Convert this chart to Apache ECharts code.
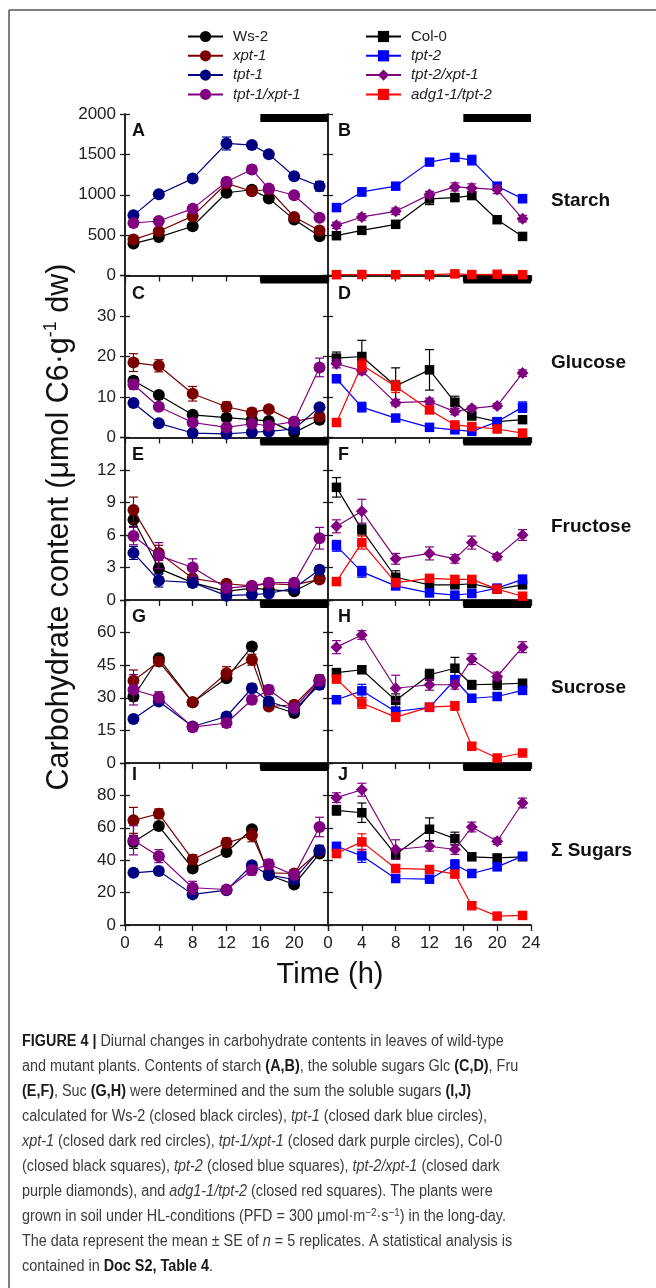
<!DOCTYPE html>
<html><head><meta charset="utf-8">
<script src="https://cdn.jsdelivr.net/npm/echarts@6/dist/echarts.min.js"></script>
<style>html,body{margin:0;padding:0;background:#fff}#c{width:656px;height:1288px}</style>
</head><body><div id="c"></div><script>
// ---------- data ----------
const times = [1, 4, 8, 12, 15, 17, 20, 23];
const rowNames = ['Starch', 'Glucose', 'Fructose', 'Sucrose', 'Σ Sugars'];
const panelLetters = [['A', 'B'], ['C', 'D'], ['E', 'F'], ['G', 'H'], ['I', 'J']];
const yMax = [2000, 40, 15, 75, 100];
const yStep = [500, 10, 3, 15, 20];
const xMax = 24, xStep = 4;
const darkStart = 16, darkEnd = 24;
const leftNames = ['Ws-2', 'xpt-1', 'tpt-1', 'tpt-1/xpt-1'];
const rightNames = ['Col-0', 'tpt-2', 'tpt-2/xpt-1', 'adg1-1/tpt-2'];

// Starch
const ws2_starch = [395, 476, 610, 1025, 1062, 955, 692, 485];
const xpt1_starch = [445, 548, 735, 1140, 1043, 1065, 725, 558];
const tpt1_starch = [745, 1006, 1200, 1635, 1615, 1503, 1230, 1105];
const tpt1xpt1_starch = [650, 675, 828, 1160, 1313, 1077, 994, 716];
const col0_starch = [493, 559, 634, 948, 965, 990, 691, 484];
const tpt2_starch = [841, 1035, 1106, 1404, 1462, 1429, 1106, 952];
const tpt2xpt1_starch = [621, 725, 795, 1002, 1097, 1085, 1064, 704];
const adg1_starch = [10, 12, 10, 10, 20, 12, 15, 10];
const ws2_starch_se = [20, 20, 20, 30, 20, 30, 20, 20];
const xpt1_starch_se = [30, 30, 30, 40, 30, 30, 30, 30];
const tpt1_starch_se = [30, 30, 30, 80, 30, 30, 40, 60];
const tpt1xpt1_starch_se = [30, 30, 30, 40, 50, 30, 30, 40];
const col0_starch_se = [20, 30, 30, 70, 30, 20, 20, 20];
const tpt2_starch_se = [40, 50, 40, 40, 40, 60, 40, 50];
const tpt2xpt1_starch_se = [40, 40, 40, 40, 50, 50, 50, 40];
const adg1_starch_se = [10, 10, 10, 10, 10, 10, 10, 10];

// Glucose
const ws2_glc = [14.0, 10.5, 5.6, 4.9, 4.4, 4.1, 1.2, 4.4];
const xpt1_glc = [18.5, 17.7, 10.8, 7.6, 6.2, 7.0, 3.9, 5.2];
const tpt1_glc = [8.5, 3.5, 1.1, 0.9, 1.3, 1.5, 2.1, 7.5];
const tpt1xpt1_glc = [13.1, 7.6, 3.7, 2.5, 3.4, 2.9, 3.9, 17.3];
const col0_glc = [19.6, 20.0, 12.7, 16.7, 8.7, 5.3, 3.9, 4.4];
const tpt2_glc = [14.5, 7.5, 4.8, 2.5, 1.9, 1.5, 3.9, 7.5];
const tpt2xpt1_glc = [18.2, 16.5, 8.6, 8.9, 6.4, 7.2, 7.8, 15.9];
const adg1_glc = [3.7, 17.9, 12.6, 6.8, 3.1, 2.7, 2.1, 1.1];
const ws2_glc_se = [1.0, 0.6, 0.5, 0.5, 0.5, 0.6, 0.3, 1.0];
const xpt1_glc_se = [2.2, 1.5, 1.8, 1.2, 1.0, 0.8, 0.4, 0.8];
const tpt1_glc_se = [0.8, 0.5, 0.3, 0.3, 0.3, 0.3, 0.4, 0.8];
const tpt1xpt1_glc_se = [1.2, 0.7, 0.6, 0.5, 0.6, 0.5, 0.5, 2.3];
const col0_glc_se = [1.5, 4.0, 4.5, 5.0, 1.5, 0.8, 0.5, 0.5];
const tpt2_glc_se = [0.9, 1.2, 0.8, 0.6, 0.5, 0.4, 0.6, 1.3];
const tpt2xpt1_glc_se = [1.0, 1.0, 0.8, 0.8, 0.8, 0.6, 0.6, 0.8];
const adg1_glc_se = [0.6, 1.5, 1.5, 0.8, 0.5, 0.5, 0.5, 0.4];

// Fructose
const ws2_fru = [7.4, 2.9, 1.6, 0.8, 1.1, 0.95, 0.8, 2.0];
const xpt1_fru = [8.3, 4.35, 2.0, 1.5, 1.3, 1.5, 1.4, 1.9];
const tpt1_fru = [4.35, 1.8, 1.6, 0.4, 0.5, 0.6, 1.1, 2.8];
const tpt1xpt1_fru = [5.9, 4.1, 3.0, 1.1, 1.3, 1.6, 1.6, 5.7];
const col0_fru = [10.4, 6.5, 2.1, 1.4, 1.4, 1.5, 1.0, 1.4];
const tpt2_fru = [5.0, 2.6, 1.3, 0.65, 0.45, 0.6, 1.1, 1.9];
const tpt2xpt1_fru = [6.8, 8.2, 3.8, 4.3, 3.8, 5.3, 4.0, 6.0];
const adg1_fru = [1.7, 5.3, 1.6, 2.0, 1.9, 1.9, 1.0, 0.35];
const ws2_fru_se = [0.6, 0.5, 0.3, 0.2, 0.2, 0.2, 0.2, 0.3];
const xpt1_fru_se = [1.2, 0.7, 0.3, 0.3, 0.2, 0.3, 0.3, 0.3];
const tpt1_fru_se = [0.6, 0.6, 0.4, 0.2, 0.2, 0.2, 0.2, 0.3];
const tpt1xpt1_fru_se = [0.8, 1.2, 0.8, 0.3, 0.3, 0.4, 0.3, 1.0];
const col0_fru_se = [0.9, 0.5, 0.6, 0.2, 0.2, 0.2, 0.2, 0.2];
const tpt2_fru_se = [0.5, 0.5, 0.3, 0.2, 0.2, 0.2, 0.3, 0.4];
const tpt2xpt1_fru_se = [0.6, 1.1, 0.5, 0.6, 0.4, 0.6, 0.3, 0.5];
const adg1_fru_se = [0.2, 0.6, 0.3, 0.3, 0.3, 0.3, 0.2, 0.2];

// Sucrose
const ws2_suc = [30.6, 48.2, 27.9, 39.0, 53.6, 26.8, 23.0, 37.5];
const xpt1_suc = [37.8, 46.7, 27.9, 41.3, 47.5, 26.0, 26.8, 38.3];
const tpt1_suc = [20.2, 28.3, 16.8, 21.4, 34.4, 28.3, 24.5, 36.0];
const tpt1xpt1_suc = [33.7, 30.3, 16.5, 18.4, 29.1, 33.7, 25.3, 38.0];
const col0_suc = [41.6, 42.9, 28.8, 40.6, 43.6, 36.0, 36.3, 36.7];
const tpt2_suc = [29.1, 33.2, 23.7, 25.6, 38.3, 29.8, 30.6, 33.4];
const tpt2xpt1_suc = [53.3, 58.9, 34.4, 36.0, 36.0, 47.8, 39.8, 53.3];
const adg1_suc = [38.6, 27.6, 21.1, 25.7, 26.3, 7.7, 2.3, 4.6];
const ws2_suc_se = [2, 1.5, 1, 1.5, 1.5, 1.5, 1.5, 2];
const xpt1_suc_se = [5, 2, 1.5, 3, 2.5, 1.5, 1.5, 2];
const tpt1_suc_se = [1.5, 1.5, 1.5, 1.5, 2, 1.5, 1.5, 2];
const tpt1xpt1_suc_se = [7, 2.5, 2, 2, 2, 2, 1.5, 2.5];
const col0_suc_se = [1.5, 1.5, 3, 2.5, 5, 2, 2.5, 1.5];
const tpt2_suc_se = [1.5, 3, 1.5, 1.5, 2, 1.5, 1.5, 1.5];
const tpt2xpt1_suc_se = [3, 2, 6, 2.5, 2, 2.5, 2, 2.5];
const adg1_suc_se = [1.5, 2.5, 2, 1.5, 2, 1.5, 1, 1.5];

// Sum of sugars
const ws2_sum = [51.3, 61.1, 34.9, 45.1, 59.1, 30.8, 25.0, 44.1];
const xpt1_sum = [64.6, 68.7, 40.4, 50.7, 55.4, 32.2, 31.8, 45.7];
const tpt1_sum = [32.2, 33.4, 18.9, 21.5, 36.9, 30.8, 28.1, 46.2];
const tpt1xpt1_sum = [52.3, 42.5, 23.0, 21.9, 33.8, 37.5, 30.8, 60.5];
const col0_sum = [70.8, 69.3, 43.5, 59.1, 53.3, 42.1, 41.4, 42.1];
const tpt2_sum = [48.6, 42.7, 28.7, 28.3, 37.3, 31.8, 35.9, 42.5];
const tpt2xpt1_sum = [78.6, 83.5, 46.6, 48.6, 46.6, 60.5, 51.7, 75.3];
const adg1_sum = [44.1, 51.3, 34.9, 34.3, 31.4, 11.9, 5.5, 5.9];
const ws2_sum_se = [4, 2, 2, 2, 2, 2, 2, 2];
const xpt1_sum_se = [8, 3, 3, 3, 4, 2, 2, 2];
const tpt1_sum_se = [2, 2, 2, 2, 2, 2, 2, 3];
const tpt1xpt1_sum_se = [9, 4, 4, 2, 3, 3, 2, 6];
const col0_sum_se = [3, 6, 3, 7, 4, 2, 2, 2];
const tpt2_sum_se = [2, 4, 2, 2, 3, 2, 2, 2];
const tpt2xpt1_sum_se = [3, 4, 6, 3, 3, 3, 2, 3];
const adg1_sum_se = [2, 5, 2, 2, 2, 2, 1.5, 1.5];

// ---------- mapping ----------
const leftVals = [
  [ws2_starch, xpt1_starch, tpt1_starch, tpt1xpt1_starch],
  [ws2_glc, xpt1_glc, tpt1_glc, tpt1xpt1_glc],
  [ws2_fru, xpt1_fru, tpt1_fru, tpt1xpt1_fru],
  [ws2_suc, xpt1_suc, tpt1_suc, tpt1xpt1_suc],
  [ws2_sum, xpt1_sum, tpt1_sum, tpt1xpt1_sum]];
const leftErrs = [
  [ws2_starch_se, xpt1_starch_se, tpt1_starch_se, tpt1xpt1_starch_se],
  [ws2_glc_se, xpt1_glc_se, tpt1_glc_se, tpt1xpt1_glc_se],
  [ws2_fru_se, xpt1_fru_se, tpt1_fru_se, tpt1xpt1_fru_se],
  [ws2_suc_se, xpt1_suc_se, tpt1_suc_se, tpt1xpt1_suc_se],
  [ws2_sum_se, xpt1_sum_se, tpt1_sum_se, tpt1xpt1_sum_se]];
const rightVals = [
  [col0_starch, tpt2_starch, tpt2xpt1_starch, adg1_starch],
  [col0_glc, tpt2_glc, tpt2xpt1_glc, adg1_glc],
  [col0_fru, tpt2_fru, tpt2xpt1_fru, adg1_fru],
  [col0_suc, tpt2_suc, tpt2xpt1_suc, adg1_suc],
  [col0_sum, tpt2_sum, tpt2xpt1_sum, adg1_sum]];
const rightErrs = [
  [col0_starch_se, tpt2_starch_se, tpt2xpt1_starch_se, adg1_starch_se],
  [col0_glc_se, tpt2_glc_se, tpt2xpt1_glc_se, adg1_glc_se],
  [col0_fru_se, tpt2_fru_se, tpt2xpt1_fru_se, adg1_fru_se],
  [col0_suc_se, tpt2_suc_se, tpt2xpt1_suc_se, adg1_suc_se],
  [col0_sum_se, tpt2_sum_se, tpt2xpt1_sum_se, adg1_sum_se]];

const colors = {
  'Ws-2': '#000000', 'xpt-1': '#7a0000', 'tpt-1': '#000080', 'tpt-1/xpt-1': '#800080',
  'Col-0': '#000000', 'tpt-2': '#0000ff', 'tpt-2/xpt-1': '#800080', 'adg1-1/tpt-2': '#ff0000'
};
const symbols = {
  'Ws-2': ['circle', 12], 'xpt-1': ['circle', 12], 'tpt-1': ['circle', 12], 'tpt-1/xpt-1': ['circle', 12],
  'Col-0': ['rect', 9.5], 'tpt-2': ['rect', 9.5], 'tpt-2/xpt-1': ['diamond', 12], 'adg1-1/tpt-2': ['rect', 9.5]
};

// ---------- layout ----------
const FONT = "'Liberation Sans', Arial, Helvetica, sans-serif";
const colLeft = [125, 328], colW = 203;
const rowTop = [114, 275.5, 437.5, 600, 763];
const rowBot = [275.5, 437.5, 600, 763, 925];
const letterY = [131, 294, 455, 617, 775];
const rowLabelY = [201, 363, 527, 688, 851];
const barPx = 8;
const AX = '#1a1a1a';

function errRender(color) {
  return function (params, api) {
    const x = api.value(0), v = api.value(1), e = api.value(2);
    const p1 = api.coord([x, v + e]), p2 = api.coord([x, v - e]);
    const w = 4.5;
    const st = { stroke: color, lineWidth: 1.2 };
    return { type: 'group', children: [
      { type: 'line', shape: { x1: p1[0], y1: p1[1], x2: p2[0], y2: p2[1] }, style: st },
      { type: 'line', shape: { x1: p1[0] - w, y1: p1[1], x2: p1[0] + w, y2: p1[1] }, style: st },
      { type: 'line', shape: { x1: p2[0] - w, y1: p2[1], x2: p2[0] + w, y2: p2[1] }, style: st }
    ]};
  };
}

const grids = [], xAxes = [], yAxes = [], series = [], graphics = [];
for (let r = 0; r < 5; r++) {
  for (let c = 0; c < 2; c++) {
    const g = r * 2 + c;
    const h = rowBot[r] - rowTop[r];
    grids.push({ left: colLeft[c], top: rowTop[r], width: colW, height: h });
    const lineSt = { show: true, lineStyle: { color: AX, width: 1.5 } };
    xAxes.push({ gridIndex: g, type: 'value', min: 0, max: xMax, interval: xStep, position: 'bottom',
      axisLine: lineSt, axisTick: { show: false }, splitLine: { show: false },
      axisLabel: { show: r === 4, fontSize: 17, color: '#222', fontFamily: FONT, margin: 10, showMaxLabel: c === 1,
        formatter: v => String(v) } });
    xAxes.push({ gridIndex: g, type: 'value', min: 0, max: xMax, interval: xStep, position: 'top',
      axisLine: lineSt, axisTick: { show: true, inside: true, length: 6, lineStyle: { color: AX, width: 1.3 } },
      splitLine: { show: false }, axisLabel: { show: false } });
    yAxes.push({ gridIndex: g, type: 'value', min: 0, max: yMax[r], interval: yStep[r], position: 'left',
      axisLine: lineSt, axisTick: { show: true, inside: true, length: 5, lineStyle: { color: AX, width: 1.3 } },
      splitLine: { show: false },
      axisLabel: { show: c === 0, fontSize: 17, color: '#222', fontFamily: FONT, margin: 9, showMaxLabel: r === 0,
        formatter: v => String(v) } });
    yAxes.push({ gridIndex: g, type: 'value', min: 0, max: yMax[r], interval: yStep[r], position: 'right',
      axisLine: lineSt, axisTick: { show: true, inside: true, length: 5, lineStyle: { color: AX, width: 1.3 } },
      splitLine: { show: false }, axisLabel: { show: false } });

    const names = c === 0 ? leftNames : rightNames;
    const vals = c === 0 ? leftVals[r] : rightVals[r];
    const errs = c === 0 ? leftErrs[r] : rightErrs[r];
    names.forEach((nm, k) => {
      const col = colors[nm];
      series.push({ type: 'custom', xAxisIndex: 2 * g, yAxisIndex: 2 * g, silent: true, z: 2 + k,
        renderItem: errRender(col), encode: { x: 0, y: 1 },
        data: times.map((t, i) => [t, vals[k][i], errs[k][i]]) });
      const s = { type: 'line', name: nm, xAxisIndex: 2 * g, yAxisIndex: 2 * g, z: 2 + k,
        data: times.map((t, i) => [t, vals[k][i]]),
        symbol: symbols[nm][0], symbolSize: symbols[nm][1], showAllSymbol: true,
        itemStyle: { color: col, opacity: 1 }, lineStyle: { color: col, width: 1.2 },
        emphasis: { disabled: true } };
      if (k === 0) {
        s.markArea = { silent: true, itemStyle: { color: '#000', opacity: 1 },
          data: [[{ xAxis: darkStart, yAxis: yMax[r] * (1 - barPx / h) }, { xAxis: darkEnd, yAxis: yMax[r] }]] };
      }
      series.push(s);
    });

    graphics.push({ type: 'text', x: colLeft[c] + (c === 0 ? 7 : 10), y: letterY[r],
      style: { text: panelLetters[r][c], fontSize: 18, fontWeight: 'bold', fontFamily: FONT, fill: '#111', verticalAlign: 'middle', align: 'left' } });
  }
  graphics.push({ type: 'text', x: 551, y: rowLabelY[r],
    style: { text: rowNames[r], fontSize: 19, fontWeight: 'bold', fontFamily: FONT, fill: '#111', verticalAlign: 'middle', align: 'left' } });
}

// axis titles
graphics.push({ type: 'text', x: 60, y: 527, rotation: Math.PI / 2,
  style: { text: '{n|Carbohydrate content (μmol C6·g}{s|-1}{n| dw)}', align: 'center', verticalAlign: 'middle',
    rich: { n: { fontSize: 30.5, fontFamily: FONT, fill: '#111', lineHeight: 36 },
            s: { fontSize: 18, fontFamily: FONT, fill: '#111', verticalAlign: 'top', lineHeight: 18 } } } });
graphics.push({ type: 'text', x: 330, y: 975,
  style: { text: 'Time (h)', fontSize: 29, fontFamily: FONT, fill: '#111', align: 'center', verticalAlign: 'middle' } });

// frame
graphics.push({ type: 'line', shape: { x1: 9, y1: 10, x2: 656, y2: 10 }, style: { stroke: '#555', lineWidth: 1.5 } });
graphics.push({ type: 'line', shape: { x1: 9, y1: 10, x2: 9, y2: 1288 }, style: { stroke: '#555', lineWidth: 1.5 } });

// caption
const captionLines = [
  '{b|FIGURE 4 |} Diurnal changes in carbohydrate contents in leaves of wild-type',
  'and mutant plants. Contents of starch {b|(A,B)}, the soluble sugars Glc {b|(C,D)}, Fru',
  '{b|(E,F)}, Suc {b|(G,H)} were determined and the sum the soluble sugars {b|(I,J)}',
  'calculated for Ws-2 (closed black circles), {i|tpt-1} (closed dark blue circles),',
  '{i|xpt-1} (closed dark red circles), {i|tpt-1/xpt-1} (closed dark purple circles), Col-0',
  '(closed black squares), {i|tpt-2} (closed blue squares), {i|tpt-2/xpt-1} (closed dark',
  'purple diamonds), and {i|adg1-1/tpt-2} (closed red squares). The plants were',
  'grown in soil under HL-conditions (PFD = 300 μmol·m{s|−2}·s{s|−1}) in the long-day.',
  'The data represent the mean ± SE of {i|n} = 5 replicates. A statistical analysis is',
  'contained in {b|Doc S2, Table 4}.'
];
const capRich = {
  n: { fontSize: 16, fontFamily: FONT, fill: '#3c3c3c', lineHeight: 20 },
  b: { fontSize: 16, fontFamily: FONT, fill: '#1a1a1a', fontWeight: 'bold', lineHeight: 20 },
  i: { fontSize: 16, fontFamily: FONT, fill: '#3c3c3c', fontStyle: 'italic', lineHeight: 20 },
  s: { fontSize: 11, fontFamily: FONT, fill: '#3c3c3c', verticalAlign: 'top', lineHeight: 11 }
};
captionLines.forEach((ln, k) => {
  const txt = ln.replace(/(^|\})([^{}]+)(?=\{|$)/g, (m, p, t) => p + '{n|' + t + '}');
  graphics.push({ type: 'text', x: 22, y: 1042 + 25 * k, scaleX: 0.9,
    style: { text: txt, rich: capRich, align: 'left', verticalAlign: 'middle' } });
});

const legendBase = { orient: 'vertical', padding: 0, itemWidth: 35, itemHeight: 14, itemGap: 4.3,
  selectedMode: false,
  textStyle: { fontSize: 15, fontFamily: FONT, color: '#222',
    rich: { i: { fontSize: 15, fontFamily: FONT, color: '#222', fontStyle: 'italic', lineHeight: 16, padding: [0, 0, 0, 5] },
            n: { fontSize: 15, fontFamily: FONT, color: '#222', lineHeight: 16, padding: [0, 0, 0, 5] } } },
  formatter: nm => (nm === 'Ws-2' || nm === 'Col-0') ? '{n|' + nm + '}' : '{i|' + nm + '}' };

const chart = echarts.init(document.getElementById('c'), null, { renderer: 'canvas' });
chart.setOption({
  animation: false,
  backgroundColor: '#fff',
  legend: [Object.assign({}, legendBase, { data: leftNames, left: 187, top: 29 }),
           Object.assign({}, legendBase, { data: rightNames, left: 365, top: 29 })],
  grid: grids, xAxis: xAxes, yAxis: yAxes, series: series, graphic: graphics
});
</script></body></html>
